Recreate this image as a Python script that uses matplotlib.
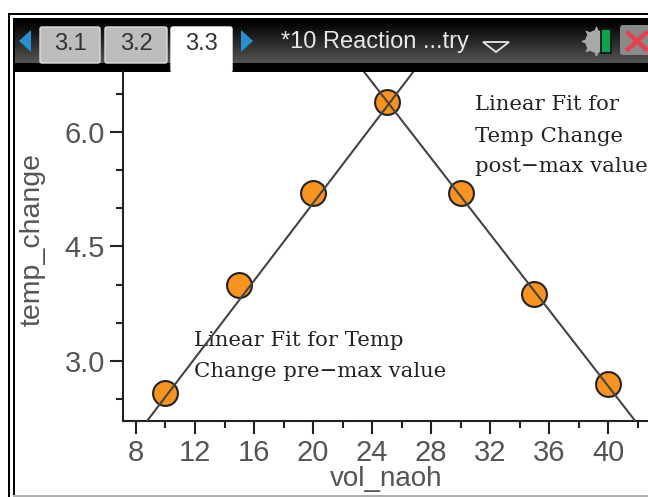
import numpy as np
import matplotlib.pyplot as plt
from matplotlib.patches import Rectangle, Polygon, FancyBboxPatch

W, H = 648, 497

vol_naoh = [10, 15, 20, 25, 30, 35, 40]
temp_change = [2.58, 4.0, 5.2, 6.4, 5.2, 3.88, 2.7]
# slope, intercept of the two fitted lines
fit_pre = [0.254, -0.0125]
fit_post = [-0.2493, 12.64]
x_major = [8, 12, 16, 20, 24, 28, 32, 36, 40]
x_minor = [10, 14, 18, 22, 26, 30, 34, 38, 42]
y_major = [3.0, 4.5, 6.0]
y_minor = [2.5, 3.5, 4.0, 5.0, 5.5, 6.5]
tab_labels = ["3.1", "3.2", "3.3"]
doc_title = "*10 Reaction ...try"
note_pre = "Linear Fit for Temp\nChange pre\u2212max value"
note_post = "Linear Fit for\nTemp Change\npost\u2212max value"

fig = plt.figure(figsize=(W / 100, H / 100), dpi=100)

# whole-figure layer in pixel coordinates for the calculator frame
bg = fig.add_axes([0, 0, 1, 1])
bg.axis("off")

bg.add_patch(Rectangle((7.5, 13), W, H, fc="black", ec="none"))
bg.add_patch(Rectangle((9.5, 15), W, H, fc="white", ec="none"))
bg.add_patch(Rectangle((13, 18), W, H, fc="black", ec="none"))
bg.add_patch(Rectangle((15, 72), W, 423, fc="white", ec="none"))
bg.add_patch(Rectangle((13, 495), W, 2, fc="#b0b0b0", ec="none"))

grad = np.linspace(0.0, 0.33, 40).reshape(-1, 1)
bg.imshow(grad, extent=(15, W, 63, 21), cmap="gray", vmin=0, vmax=1, aspect="auto", zorder=1)
bg.set_xlim(0, W)
bg.set_ylim(H, 0)

tab_x = [(40, 100), (105, 167), (171, 232)]
for i, (lab, (x0, x1)) in enumerate(zip(tab_labels, tab_x)):
    active = i == 2
    bottom = 72 if active else 63
    bg.add_patch(FancyBboxPatch((x0, 27), x1 - x0, bottom - 27,
                                boxstyle="round,pad=0,rounding_size=2",
                                fc="white" if active else "#bdbdbd",
                                ec="white" if active else "#dddddd", lw=1, zorder=3))
    bg.text((x0 + x1) / 2, 44, lab, ha="center", va="center", fontsize=17,
            family="Liberation Sans", color="#333333", zorder=4)

bg.add_patch(Polygon([[31, 30], [19, 41], [31, 52]], fc="#2a8fd0", ec="none", zorder=3))
bg.add_patch(Polygon([[241, 30], [253, 41], [241, 52]], fc="#2a8fd0", ec="none", zorder=3))
bg.text(281, 42, doc_title, ha="left", va="center", fontsize=17,
        family="Liberation Sans", color="#e8e8e8", zorder=4)
bg.add_patch(Polygon([[483, 42], [509, 42], [496, 52]], fc="none", ec="#e8e8e8", lw=1.3, zorder=4))

# battery gear and close button
bg.scatter([596], [41], s=420, marker=(8, 1, 0), color="#a8a8a8", zorder=3)
bg.scatter([596], [41], s=230, marker="o", color="#a8a8a8", zorder=3)
bg.add_patch(Rectangle((601, 29), 10, 24, fc="#10a050", ec="#111111", lw=1.2, zorder=4))
bg.add_patch(FancyBboxPatch((620, 25), 40, 30, boxstyle="round,pad=0,rounding_size=3",
                            fc="#8a8a8a", ec="none", zorder=3))
bg.plot([628, 646], [33, 49], color="#e8404a", lw=3.2, zorder=4)
bg.plot([628, 646], [49, 33], color="#e8404a", lw=3.2, zorder=4)

# plot area
ax = fig.add_axes([123 / W, 1 - 421 / H, (W - 123) / W, (421 - 72) / H])
ax.patch.set_alpha(0)
ax.set_xlim(7.12, 42.7)
ax.set_ylim(2.21, 6.79)
ax.spines["top"].set_visible(False)
ax.spines["right"].set_visible(False)
for s in ["left", "bottom"]:
    ax.spines[s].set_linewidth(1.5)
    ax.spines[s].set_color("#222222")

ax.set_xticks(x_major)
ax.set_xticks(x_minor, minor=True)
ax.set_yticks(y_major)
ax.set_yticklabels([f"{v:.1f}" for v in y_major])
ax.set_yticks(y_minor, minor=True)
ax.tick_params(axis="both", which="major", length=9.5, width=1.5, color="#222222",
               labelsize=21, labelcolor="#555555", pad=3.5)
ax.tick_params(axis="both", which="minor", length=5, width=1.5, color="#222222")
for t in ax.get_xticklabels() + ax.get_yticklabels():
    t.set_family("Liberation Sans")

ax.set_xlabel("vol_naoh", fontsize=20, family="Liberation Sans", color="#555555")
ax.xaxis.set_label_coords((386 - 123) / (W - 123), -(479 - 421) / (421 - 72))
ax.xaxis.label.set_va("center")
ax.set_ylabel("temp_change", fontsize=20.5, family="Liberation Sans", color="#555555")
ax.yaxis.set_label_coords((33 - 123) / (W - 123), (421 - 239) / (421 - 72))
ax.yaxis.label.set_va("center")

xs = np.array(ax.get_xlim())
for m, b in (fit_pre, fit_post):
    ax.plot(xs, m * xs + b, color="#444444", lw=1.5, zorder=3)

ax.scatter(vol_naoh, temp_change, s=320, facecolor="#f7931e", edgecolor="#222222",
           linewidth=1.5, zorder=2)

bg.text(194, 356, note_pre, fontsize=15.3, family="DejaVu Serif", color="#222222",
        ha="left", va="center", linespacing=1.8, zorder=6)
bg.text(475, 136, note_post, fontsize=15.3, family="DejaVu Serif", color="#222222",
        ha="left", va="center", linespacing=1.8, zorder=6, clip_on=True)

fig.savefig("out.png", dpi=100)
